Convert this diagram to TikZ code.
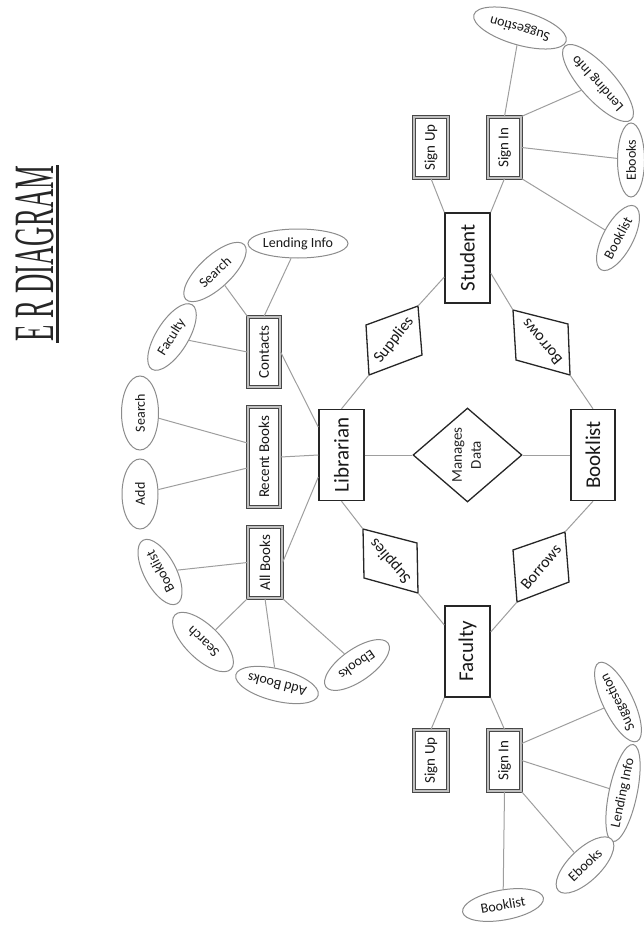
\documentclass[tikz,border=0pt]{standalone}
\usepackage{fontspec}
\setmainfont{Carlito}
\newfontfamily\titlefont{Liberation Serif}
\usetikzlibrary{shapes.geometric}
\newcommand{\myrot}[1]{\rotatebox{90}{#1}}
\begin{document}
\begin{tikzpicture}[x=1pt,y=-1pt,
  ent/.style={draw=black!85, line width=1.4pt, fill=white, inner sep=0pt, font=\fontsize{21}{24}\selectfont, text=black!90},
  weak/.style={draw=black!72, double=black!25, double distance=1.2pt, line width=1.2pt, fill=white, inner sep=0pt, font=\fontsize{15}{18}\selectfont, text=black!90},
  attr/.style={ellipse, draw=black!45, line width=1pt, fill=white, inner sep=0pt, font=\fontsize{14}{16}\selectfont, text=black!90},
  conn/.style={draw=black!38, line width=1pt},
  relsh/.style={draw=black!85, line width=1.3pt, fill=white},
  reltx/.style={inner sep=0pt, font=\fontsize{16}{18}\selectfont, text=black!90}
]
\useasboundingbox (0,0) rectangle (643,931);

% title
\node[anchor=base, rotate=90, inner sep=0pt, font=\titlefont\fontsize{57}{60}\selectfont, text=black!85] (title) at (53,253.5) {\scalebox{0.47}[1]{E R DIAGRAM}};
\coordinate (ulA) at (57.5,165);
\coordinate (ulB) at (57.5,343);
\draw[line width=3pt, black!85] (ulA) -- (ulB);

% entities
\node[ent, minimum width=45pt, minimum height=91pt] (lib) at (341.5,455) {\myrot{Librarian}};
\node[ent, minimum width=44pt, minimum height=91pt] (book) at (593,455) {\myrot{Booklist}};
\node[ent, minimum width=45pt, minimum height=90pt] (stu) at (467.5,258) {\myrot{Student}};
\node[ent, minimum width=45pt, minimum height=91pt] (fac) at (467.5,651.5) {\myrot{Faculty}};

% weak entities
\node[weak, minimum width=32pt, minimum height=70pt] (con) at (264,352) {\myrot{Contacts}};
\node[weak, minimum width=32pt, minimum height=100pt] (rb) at (264,457) {\myrot{Recent Books}};
\node[weak, minimum width=34pt, minimum height=71pt] (ab) at (265,562.5) {\myrot{All Books}};
\node[weak, minimum width=34pt, minimum height=61pt] (ssu) at (431,147.5) {\myrot{Sign Up}};
\node[weak, minimum width=33pt, minimum height=61pt] (ssi) at (504.5,147.5) {\myrot{Sign In}};
\node[weak, minimum width=34pt, minimum height=61pt] (fsu) at (431,760.5) {\myrot{Sign Up}};
\node[weak, minimum width=33pt, minimum height=61pt] (fsi) at (504.5,760.5) {\myrot{Sign In}};

% central relationship
\node[diamond, draw=black!85, line width=1.3pt, minimum width=109pt, minimum height=94pt, inner sep=0pt, font=\fontsize{15}{19}\selectfont, text=black!85] (md) at (467.5,455) {\myrot{\begin{tabular}{@{}c@{}}Manages\\Data\end{tabular}}};

% relationship parallelograms
\coordinate (tsA) at (366,325); \coordinate (tsB) at (418,306);
\coordinate (tsC) at (422,355); \coordinate (tsD) at (369,375);
\draw[relsh] (tsA) -- (tsB) -- (tsC) -- (tsD) -- cycle;
\node[reltx, rotate=52] (ts) at (394,340) {Supplies};

\coordinate (tbA) at (513,310); \coordinate (tbB) at (568,324);
\coordinate (tbC) at (570,375); \coordinate (tbD) at (516,360);
\draw[relsh] (tbA) -- (tbB) -- (tbC) -- (tbD) -- cycle;
\node[reltx, rotate=130] (tb) at (542,342) {Borrows};

\coordinate (bsA) at (363,529); \coordinate (bsB) at (417,543);
\coordinate (bsC) at (418,593); \coordinate (bsD) at (364,578);
\draw[relsh] (bsA) -- (bsB) -- (bsC) -- (bsD) -- cycle;
\node[reltx, rotate=131] (bs) at (390.5,561) {Supplies};

\coordinate (bbA) at (513,550); \coordinate (bbB) at (565,532);
\coordinate (bbC) at (569,582); \coordinate (bbD) at (517,602);
\draw[relsh] (bbA) -- (bbB) -- (bbC) -- (bbD) -- cycle;
\node[reltx, rotate=50] (bb) at (541,567) {Borrows};

% attributes: student
\node[attr, minimum width=96pt, minimum height=34pt, rotate=164] (ssug) at (520,28) {Suggestion};
\node[attr, minimum width=82pt, minimum height=34pt, rotate=132] (slin) at (598,83) {Lending Info};
\node[attr, minimum width=74pt, minimum height=27pt, rotate=90] (sebk) at (631,160) {Ebooks};
\node[attr, minimum width=72pt, minimum height=30pt, rotate=62] (sbkl) at (618,238) {Booklist};

% attributes: faculty
\node[attr, minimum width=80pt, minimum height=30pt, rotate=116] (fsug) at (618,702) {Suggestion};
\node[attr, minimum width=76pt, minimum height=28pt, rotate=78] (flin) at (623,793) {Lending Info};
\node[attr, minimum width=74pt, minimum height=32pt, rotate=44] (febk) at (585,865) {Ebooks};
\node[attr, minimum width=82pt, minimum height=30pt, rotate=10] (fbkl) at (503,905) {Booklist};

% attributes: contacts
\node[attr, minimum width=100pt, minimum height=29pt] (clin) at (298,243.5) {Lending Info};
\node[attr, minimum width=80pt, minimum height=32pt, rotate=43] (csea) at (215,272) {Search};
\node[attr, minimum width=76pt, minimum height=32pt, rotate=58] (cfac) at (172,337) {Faculty};

% attributes: recent books
\node[attr, minimum width=74pt, minimum height=37pt, rotate=90] (rsea) at (140,413) {Search};
\node[attr, minimum width=70pt, minimum height=36pt, rotate=90] (radd) at (140,494) {Add};

% attributes: all books
\node[attr, minimum width=72pt, minimum height=32pt, rotate=118] (abkl) at (160,572) {Booklist};
\node[attr, minimum width=78pt, minimum height=34pt, rotate=136] (asea) at (203,642) {Search};
\node[attr, minimum width=82pt, minimum height=32pt, rotate=166] (aadd) at (277,685) {Add Books};
\node[attr, minimum width=76pt, minimum height=32pt, rotate=215] (aebk) at (357,665) {Ebooks};

% connectors: core
\draw[conn] (lib.north) -- (tsD);
\draw[conn] (tsB) -- ([yshift=-19pt]stu.west);
\draw[conn] ([yshift=-15pt]stu.east) -- (tbA);
\draw[conn] (tbC) -- (book.north);
\draw[conn] (book.south) -- (bbB);
\draw[conn] (bbD) -- ([yshift=19.5pt]fac.east);
\draw[conn] (lib.south) -- (bsA);
\draw[conn] (bsC) -- ([yshift=26.5pt]fac.west);
\draw[conn] (lib.east) -- (md.west);
\draw[conn] (md.east) -- (book.west);

% connectors: librarian side
\draw[conn] ([yshift=28pt]lib.west) -- (con.east);
\draw[conn] (lib.west) -- (rb.east);
\draw[conn] ([yshift=-22pt]lib.west) -- (ab.east);
\draw[conn] (con.north) -- (clin);
\draw[conn] (con.north west) -- (csea);
\draw[conn] (con.west) -- (cfac);
\draw[conn] ([yshift=14pt]rb.west) -- (rsea);
\draw[conn] ([yshift=-11pt]rb.west) -- (radd);
\draw[conn] (ab.west) -- (abkl);
\draw[conn] (ab.south west) -- (asea);
\draw[conn] (ab.south) -- (aadd);
\draw[conn] (ab.south east) -- (aebk);

% connectors: student side
\draw[conn] (stu.north west) -- (ssu.south);
\draw[conn] (stu.north east) -- (ssi.south);
\draw[conn] (ssi.north) -- (ssug);
\draw[conn] (ssi.north east) -- (slin);
\draw[conn] (ssi.east) -- (sebk);
\draw[conn] (ssi.south east) -- (sbkl);

% connectors: faculty side
\draw[conn] (fac.south west) -- (fsu.north);
\draw[conn] (fac.south east) -- (fsi.north);
\draw[conn] ([yshift=17pt]fsi.east) -- (fsug);
\draw[conn] (fsi.east) -- (flin);
\draw[conn] (fsi.south east) -- (febk);
\draw[conn] (fsi.south) -- (fbkl);
\end{tikzpicture}
\end{document}
